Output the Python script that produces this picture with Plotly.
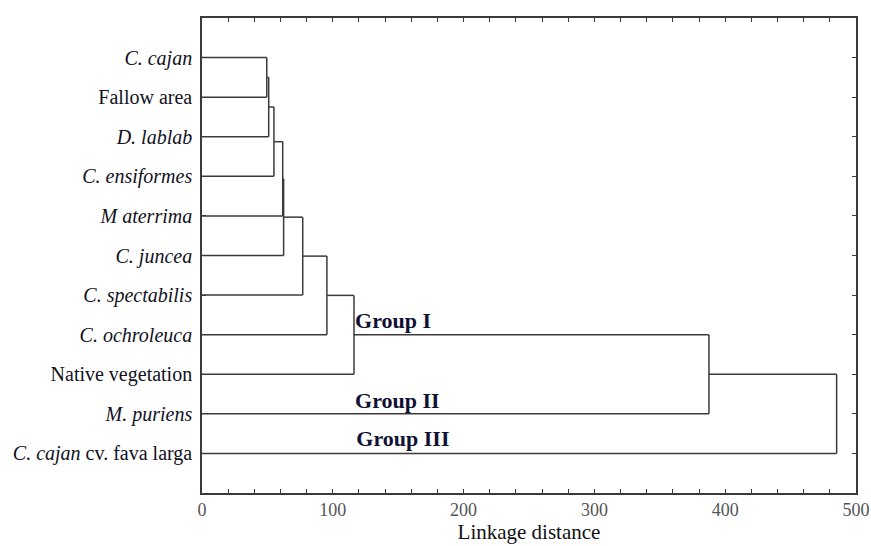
import plotly.graph_objects as go

# ---- data ----
leaf_labels = [
    "<i>C. cajan</i>",
    "Fallow area",
    "<i>D. lablab</i>",
    "<i>C. ensiformes</i>",
    "<i>M aterrima</i>",
    "<i>C. juncea</i>",
    "<i>C. spectabilis</i>",
    "<i>C. ochroleuca</i>",
    "Native vegetation",
    "<i>M. puriens</i>",
    "<i>C. cajan</i> cv. fava larga",
]
# merges: (node_a, node_b, linkage distance); nodes >= 11 are earlier merges
merge_a = [0, 11, 12, 13, 14, 15, 16, 17, 18, 19]
merge_b = [1, 2, 3, 4, 5, 6, 7, 8, 9, 10]
merge_h = [49.5, 51.0, 55.0, 61.7, 62.4, 77.0, 95.5, 116.2, 387.6, 485.2]

group_labels = ["Group I", "Group II", "Group III"]
group_x = [117, 117, 118]
group_y = [7.7, 9.72, 10.68]

x_tick_vals = list(range(0, 501, 20))
x_tick_text = [str(v) if v % 100 == 0 else "" for v in x_tick_vals]

# ---- build dendrogram segments ----
n = len(leaf_labels)
pos_y = {i: i + 1 for i in range(n)}
pos_h = {i: 0.0 for i in range(n)}
xs, ys = [], []
for k, (a, b, h) in enumerate(zip(merge_a, merge_b, merge_h)):
    for c in (a, b):
        xs += [pos_h[c], h, None]
        ys += [pos_y[c], pos_y[c], None]
    xs += [h, h, None]
    ys += [pos_y[a], pos_y[b], None]
    node = n + k
    pos_y[node] = (pos_y[a] + pos_y[b]) / 2
    pos_h[node] = h

line_col = "#3a3a3a"
fig = go.Figure()
fig.add_trace(go.Scatter(x=xs, y=ys, mode="lines",
                         line=dict(color=line_col, width=1.5),
                         hoverinfo="skip", showlegend=False))
fig.add_trace(go.Scatter(x=group_x, y=group_y, mode="text",
                         text=[f"<b>{g}</b>" for g in group_labels],
                         textposition="middle right",
                         textfont=dict(family="Liberation Serif", size=22, color="#111133"),
                         hoverinfo="skip", showlegend=False))

fig.update_layout(
    width=871, height=546,
    margin=dict(l=202, r=15, t=18, b=53),
    paper_bgcolor="white", plot_bgcolor="white",
    font=dict(family="Liberation Serif", size=20, color="#111122"),
    xaxis=dict(range=[0, 500], tickvals=x_tick_vals, ticktext=x_tick_text,
               ticks="inside", ticklen=4, tickcolor=line_col, automargin=False,
               ticklabeloverflow="allow",
               showline=True, linecolor=line_col, linewidth=1.6, mirror="ticks",
               showgrid=False, zeroline=False,
               tickfont=dict(family="Liberation Serif", size=18, color="#555555"),
               title=dict(text="Linkage distance", standoff=0,
                          font=dict(family="Liberation Serif", size=21, color="#111111"))),
    yaxis=dict(range=[12, 0], tickvals=list(range(1, n + 1)), ticktext=leaf_labels,
               ticks="inside", ticklen=4, tickcolor=line_col, automargin=False,
               showline=True, linecolor=line_col, linewidth=1.6, mirror="ticks",
               showgrid=False, zeroline=False, ticklabelstandoff=4,
               tickfont=dict(family="Liberation Serif", size=20, color="#111122")),
)

fig.write_html("out.html", config={"displayModeBar": False},
               post_script="document.body.style.margin='0';document.body.style.overflow='hidden';")
